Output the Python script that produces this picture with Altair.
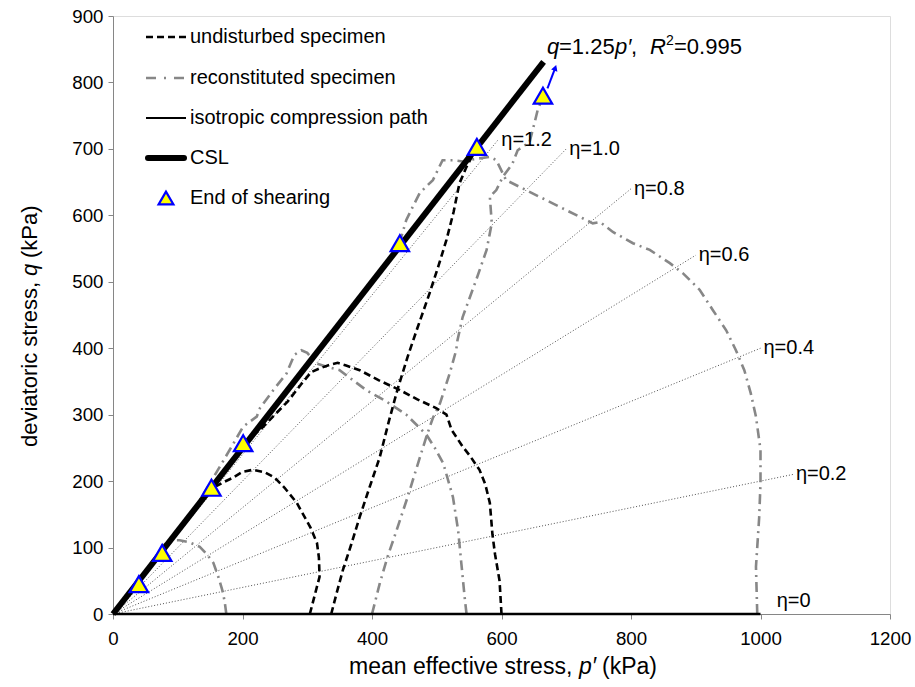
import altair as alt
import pandas as pd

# ---------------- data ----------------
x_ticks = [0, 200, 400, 600, 800, 1000, 1200]
y_ticks = [0, 100, 200, 300, 400, 500, 600, 700, 800, 900]

csl_p = [0, 665]
csl_q = [0, 831]

iso_p = [0, 1000]
iso_q = [0, 0]

eta_vals = [0.2, 0.4, 0.6, 0.8, 1.0, 1.2]
eta_end_p = [1050, 1000, 900, 800, 700, 595]
eta_labels = ["η=0.2", "η=0.4", "η=0.6", "η=0.8", "η=1.0", "η=1.2"]
eta0_label = "η=0"
eta0_pos = [1025, 20]

# undisturbed specimens (black dashed)
u1_p = [304, 312, 319, 318, 315, 305, 284, 265, 250, 235, 216, 200, 185, 170, 155]
u1_q = [0, 30, 56, 85, 107, 130, 167, 190, 205, 213, 217, 214, 205, 198, 190]
u2_p = [337, 345, 355, 368, 381, 396, 412, 426, 440, 455, 470, 489, 503, 515, 526, 535, 546, 555, 561]
u2_q = [0, 30, 66, 105, 146, 190, 236, 290, 340, 387, 430, 483, 525, 563, 605, 648, 673, 690, 703]
u3_p = [600, 597, 590, 586, 582, 575, 566, 552, 540, 523, 515, 499, 470, 443, 410, 381, 360, 347,
        335, 320, 306, 290, 270, 250, 230, 212, 201]
u3_q = [0, 50, 90, 120, 167, 195, 217, 237, 252, 277, 300, 310, 323, 337, 352, 367, 374, 378,
        375, 370, 364, 345, 320, 300, 280, 265, 257]

# reconstituted specimens (grey dash-dot)
r1_p = [175, 173, 170, 163, 155, 145, 134, 118, 103, 90, 80, 70, 60, 50, 40]
r1_q = [0, 15, 32, 55, 77, 90, 101, 108, 111, 111, 105, 90, 75, 60, 45]
r2_p = [546, 543, 538, 533, 525, 510, 497, 484, 453, 422, 391, 350, 330, 314, 300, 291, 280, 268,
        250, 227, 222, 201, 185, 170, 150, 130, 110, 92, 76]
r2_q = [0, 26, 76, 126, 176, 227, 250, 270, 300, 320, 337, 367, 372, 377, 393, 397, 390, 362,
        340, 310, 297, 282, 255, 230, 197, 165, 135, 112, 92]
r3_p = [400, 406, 412, 424, 438, 455, 468, 484, 494, 505, 520, 530, 532, 540, 561, 577, 585, 582,
        592, 602, 617, 625, 635, 643, 651, 656, 664]
r3_q = [0, 23, 46, 86, 126, 176, 217, 267, 295, 317, 362, 397, 412, 447, 503, 548, 588, 628,
        638, 658, 678, 698, 705, 709, 739, 759, 778]
r4_p = [995, 993, 998, 1000, 1000, 993, 985, 975, 962, 947, 926, 906, 880, 860, 829, 803, 772,
        752, 741, 679, 638, 607, 592, 582, 560, 540, 525, 509, 494, 474, 463, 453, 443]
r4_q = [0, 71, 146, 197, 247, 297, 332, 367, 397, 427, 458, 488, 513, 528, 548, 558, 575,
        590, 588, 618, 638, 653, 683, 688, 685, 681, 683, 683, 653, 634, 613, 593, 560]

end_p = [40, 76, 152, 201, 443, 562, 664]
end_q = [45, 92, 190, 257, 558, 703, 780]

arrow_p = [671, 683]
arrow_q = [791, 822]

legend_labels = ["undisturbed specimen", "reconstituted specimen",
                 "isotropic compression path", "CSL", "End of shearing"]

# ---------------- helpers ----------------
FONT = "Liberation Sans"
GREY = "#878787"

xs = alt.Scale(domain=[0, 1200], nice=False, zero=True)
ys = alt.Scale(domain=[0, 900], nice=False, zero=True)
xax = alt.Axis(values=x_ticks, format="d", title=None, grid=False, labelFontSize=18.7, labelColor="black",
               domainColor="#868686", tickColor="#868686", tickSize=5, labelPadding=10,
               labelFont=FONT, labelFlush=False)
yax = alt.Axis(values=y_ticks, format="d", title=None, grid=False, labelFontSize=18.7, labelColor="black",
               domainColor="#868686", tickColor="#868686", tickSize=5, labelPadding=5,
               labelFont=FONT)


def X(f="p:Q"):
    return alt.X(f, scale=xs, axis=xax)


def Y(f="q:Q"):
    return alt.Y(f, scale=ys, axis=yax)


def path_df(name, ps, qs):
    return pd.DataFrame({"series": name, "i": list(range(len(ps))), "p": ps, "q": qs})


# eta lines
eta_rows = []
for e, pe, lab in zip(eta_vals, eta_end_p, eta_labels):
    eta_rows.append({"series": lab, "i": 0, "p": 0, "q": 0})
    eta_rows.append({"series": lab, "i": 1, "p": pe, "q": e * pe})
eta_df = pd.DataFrame(eta_rows)
eta_lab_df = pd.DataFrame({"p": eta_end_p, "q": [e * p for e, p in zip(eta_vals, eta_end_p)],
                           "t": eta_labels})

eta_lines = alt.Chart(eta_df).mark_line(color="#505050", strokeWidth=1, strokeDash=[1, 2]).encode(
    x=X(), y=Y(), detail="series:N", order="i:Q")
eta_text = alt.Chart(eta_lab_df).mark_text(align="left", baseline="middle", dx=3, fontSize=20,
                                           font=FONT, color="black").encode(x=X(), y=Y(), text="t:N")
eta0_text = alt.Chart(pd.DataFrame({"p": [eta0_pos[0]], "q": [eta0_pos[1]], "t": [eta0_label]})).mark_text(
    align="left", baseline="middle", fontSize=20, font=FONT, color="black").encode(x=X(), y=Y(), text="t:N")

und_df = pd.concat([path_df("u1", u1_p, u1_q), path_df("u2", u2_p, u2_q), path_df("u3", u3_p, u3_q)])
rec_df = pd.concat([path_df("r1", r1_p, r1_q), path_df("r2", r2_p, r2_q),
                    path_df("r3", r3_p, r3_q), path_df("r4", r4_p, r4_q)])

rec_lines = alt.Chart(rec_df).mark_line(color=GREY, strokeWidth=2.6, strokeDash=[10, 5, 2, 5]).encode(
    x=X(), y=Y(), detail="series:N", order="i:Q")
und_lines = alt.Chart(und_df).mark_line(color="black", strokeWidth=2.6, strokeDash=[7, 4]).encode(
    x=X(), y=Y(), detail="series:N", order="i:Q")

iso_line = alt.Chart(path_df("iso", iso_p, iso_q)).mark_line(color="black", strokeWidth=2.5).encode(
    x=X(), y=Y(), order="i:Q")
csl_line = alt.Chart(path_df("csl", csl_p, csl_q)).mark_line(color="black", strokeWidth=6,
                                                              strokeCap="butt").encode(
    x=X(), y=Y(), order="i:Q")

ends = alt.Chart(pd.DataFrame({"p": end_p, "q": end_q})).mark_point(
    shape="triangle-up", size=340, filled=True, fill="#FFFF00", stroke="#0000FF",
    strokeWidth=2.2, opacity=1).encode(x=X(), y=Y())

arrow_df = pd.DataFrame({"p": [arrow_p[0]], "q": [arrow_q[0]], "p2": [arrow_p[1]], "q2": [arrow_q[1]]})
arrow_shaft = alt.Chart(arrow_df).mark_rule(color="#0000FF", strokeWidth=2).encode(
    x=X(), y=Y(), x2="p2:Q", y2="q2:Q")
arrow_head = alt.Chart(arrow_df).mark_point(shape="triangle-up", size=45, filled=True,
                                            color="#0000FF", angle=20, opacity=1).encode(
    x=alt.X("p2:Q", scale=xs, axis=xax), y=alt.Y("q2:Q", scale=ys, axis=yax))


# text pieces helper (pixel positions)
def txt(s, x, y, size=20, italic=False, align="left", baseline="alphabetic", angle=0):
    kw = dict(align=align, baseline=baseline, fontSize=size, font=FONT, color="black", text=s)
    if italic:
        kw["fontStyle"] = "italic"
    if angle:
        kw["angle"] = angle
    return alt.Chart(pd.DataFrame({"a": [0]})).mark_text(**kw).encode(
        x=alt.value(x), y=alt.value(y))


# equation label (pixel coords relative to plot origin 113,16)
OX, OY = 113, 16
EY = 54 - OY
eq = [
    txt("q", 547 - OX, EY, 22, True),
    txt("=1.25", 559 - OX, EY, 22),
    txt("p′", 615 - OX, EY, 22, True),
    txt(",", 631 - OX, EY, 22),
    txt("R", 650 - OX, EY, 22, True),
    txt("2", 666 - OX, EY - 9, 14),
    txt("=0.995", 674 - OX, EY, 22),
]

# legend
LX1, LX2, LT = 146 - OX, 186 - OX, 190 - OX
rows = [37 - OY, 78 - OY, 118 - OY, 158 - OY, 198 - OY]
leg = []
one = pd.DataFrame({"a": [0]})
leg.append(alt.Chart(one).mark_rule(color="black", strokeWidth=2.6, strokeDash=[7, 4]).encode(
    x=alt.value(LX1), x2=alt.value(LX2), y=alt.value(rows[0])))
leg.append(alt.Chart(one).mark_rule(color=GREY, strokeWidth=2.6, strokeDash=[10, 8, 2, 8]).encode(
    x=alt.value(LX1), x2=alt.value(LX2), y=alt.value(rows[1])))
leg.append(alt.Chart(one).mark_rule(color="black", strokeWidth=2).encode(
    x=alt.value(LX1), x2=alt.value(LX2), y=alt.value(rows[2])))
leg.append(alt.Chart(one).mark_rule(color="black", strokeWidth=6, strokeCap="round").encode(
    x=alt.value(LX1 + 2), x2=alt.value(LX2 - 2), y=alt.value(rows[3])))
leg.append(alt.Chart(one).mark_point(shape="triangle-up", size=220, filled=True, fill="#FFFF00",
                                     stroke="#0000FF", strokeWidth=2.2, opacity=1).encode(
    x=alt.value(166 - OX), y=alt.value(rows[4])))
for lab, r in zip(legend_labels, rows):
    leg.append(txt(lab, LT, r, 20, baseline="middle"))

# axis titles (separate pieces so p' and q can be italic)
XS, XB = 349, 674
xt = [
    txt("mean effective stress,", XS - OX, XB - OY, 23),
    txt("p′", XS + 230 - OX, XB - OY, 23, True),
    txt("(kPa)", XS + 253 - OX, XB - OY, 23),
]
YS, YX = 447, 37
yt = [
    txt("deviatoric stress,", YX - OX, YS - OY, 22, angle=270),
    txt("q", YX - OX, YS - 171 - OY, 22, True, angle=270),
    txt("(kPa)", YX - OX, YS - 189 - OY, 22, angle=270),
]

chart = alt.layer(
    eta_lines, rec_lines, und_lines, iso_line, csl_line, ends, arrow_shaft, arrow_head,
    eta_text, eta0_text, *eq, *leg, *xt, *yt
).properties(
    width=777, height=598,
    autosize=alt.AutoSizeParams(type="none"),
    padding={"left": OX, "top": OY, "right": 25, "bottom": 73},
).configure_view(stroke=None).configure(font=FONT)

chart.save("out.html", embed_options={"renderer": "svg", "actions": False})
